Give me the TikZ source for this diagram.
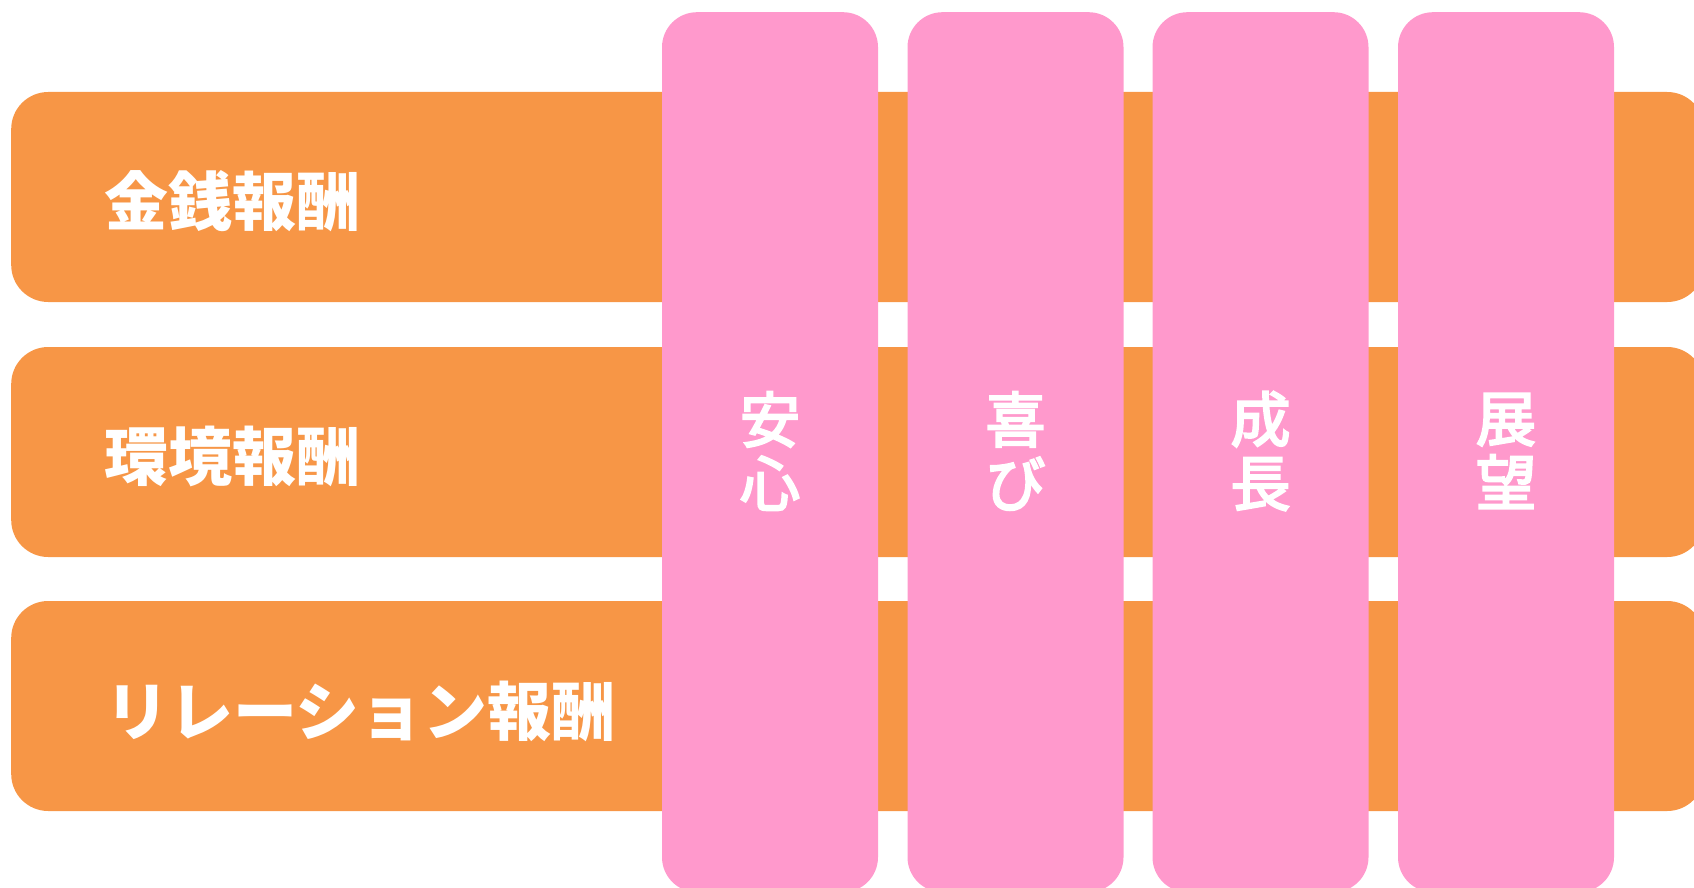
\documentclass[tikz,border=0pt]{standalone}
\usepackage{fontspec}
\newfontfamily\jp{Noto Sans CJK JP}
\newfontfamily\jpmed{Noto Sans CJK JP}[FakeBold=3.5]
\definecolor{barorange}{HTML}{F79646}
\definecolor{colpink}{HTML}{FF99CC}
\tikzset{
  bar/.style={fill=barorange, draw=none, rounded corners=37pt, minimum width=1693pt, minimum height=210pt, inner sep=0pt, anchor=west},
  colbox/.style={fill=colpink, draw=none, rounded corners=35pt, minimum width=216pt, minimum height=880pt, inner sep=0pt, anchor=north},
  barlabel/.style={anchor=west, inner sep=0pt, text=white, font=\jp\bfseries\fontsize{64pt}{66pt}\selectfont},
  collabel/.style={inner sep=0pt, text=white, align=center, font=\jpmed\fontsize{60pt}{64pt}\selectfont}
}
\begin{document}
\begin{tikzpicture}[x=1pt,y=-1pt]
\useasboundingbox (0,0) rectangle (1694,888);
\clip (0,0) rectangle (1694,888);
% rows
\node[bar] (b1) at (11,197) {};
\node[bar] (b2) at (11,452) {};
\node[bar] (b3) at (11,706) {};
\node[barlabel] (t1) at (104,201) {金銭報酬};
\node[barlabel] (t2) at (104,456) {環境報酬};
\node[barlabel] (t3) at (105,711) {リレーション報酬};
% columns
\node[colbox] (c1) at (770,12) {};
\node[colbox] (c2) at (1015.5,12) {};
\node[colbox] (c3) at (1260.5,12) {};
\node[colbox] (c4) at (1506,12) {};
\node[collabel] (l1) at (770,451) {安\\心};
\node[collabel] (l2) at (1015.5,451) {喜\\び};
\node[collabel] (l3) at (1260.5,451) {成\\長};
\node[collabel] (l4) at (1506,451) {展\\望};
\end{tikzpicture}
\end{document}
